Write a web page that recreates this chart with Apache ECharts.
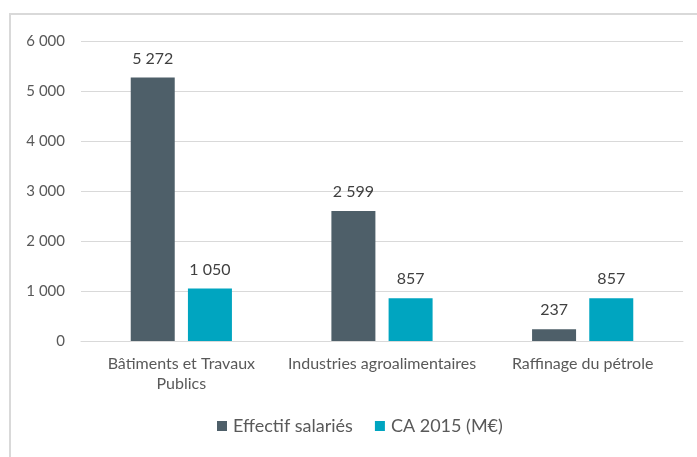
<!DOCTYPE html>
<html>
<head>
<meta charset="utf-8">
<script src="https://cdn.jsdelivr.net/npm/echarts@6/dist/echarts.min.js"></script>
<style>
  html, body { margin: 0; padding: 0; background: #fff; }
  #chart { width: 697px; height: 457px; }
</style>
</head>
<body>
<div id="chart"></div>
<script>
  var categories = ['Bâtiments et Travaux\nPublics', 'Industries agroalimentaires', 'Raffinage du pétrole'];
  var effectif = [5272, 2599, 237];
  var ca2015 = [1050, 857, 857];
  var seriesNames = ['Effectif salariés', 'CA 2015 (M€)'];

  // 5272 -> "5 272"
  function fmt(v) {
    return String(v).replace(/\B(?=(\d{3})+(?!\d))/g, ' ');
  }

  var font = 'Lato, "Open Sans", sans-serif';
  var chart = echarts.init(document.getElementById('chart'));

  chart.setOption({
    animation: false,
    textStyle: { fontFamily: font },
    graphic: [
      { type: 'rect', shape: { x: 9, y: 13, width: 688, height: 2 }, style: { fill: '#d9d9d9' } },
      { type: 'rect', shape: { x: 9, y: 13, width: 2, height: 444 }, style: { fill: '#d9d9d9' } }
    ],
    grid: { left: 81, right: 14, top: 41, bottom: 116 },
    legend: {
      data: seriesNames,
      bottom: 17,
      left: 212,
      itemWidth: 10,
      itemHeight: 10,
      itemGap: 22,
      icon: 'rect',
      textStyle: { fontSize: 18, color: '#595959', fontFamily: font, padding: [0, 0, 0, 1] }
    },
    xAxis: {
      type: 'category',
      data: categories,
      axisTick: { show: false },
      axisLine: { lineStyle: { color: '#d9d9d9' } },
      axisLabel: { color: '#595959', fontSize: 16, margin: 13, lineHeight: 20, interval: 0 }
    },
    yAxis: {
      type: 'value',
      min: 0,
      max: 6000,
      interval: 1000,
      axisLine: { show: false },
      axisTick: { show: false },
      splitLine: { lineStyle: { color: '#d9d9d9' } },
      axisLabel: { color: '#595959', fontSize: 15, margin: 16, formatter: fmt }
    },
    series: [
      {
        name: seriesNames[0],
        type: 'bar',
        data: effectif,
        barWidth: 44,
        barGap: '30%',
        itemStyle: { color: '#4e5f69' },
        label: { show: true, position: 'top', distance: 11, color: '#404040', fontSize: 16, formatter: function (p) { return fmt(p.value); } }
      },
      {
        name: seriesNames[1],
        type: 'bar',
        data: ca2015,
        barWidth: 44,
        itemStyle: { color: '#00a5c0' },
        label: { show: true, position: 'top', distance: 11, color: '#404040', fontSize: 16, formatter: function (p) { return fmt(p.value); } }
      }
    ]
  });
</script>
</body>
</html>
